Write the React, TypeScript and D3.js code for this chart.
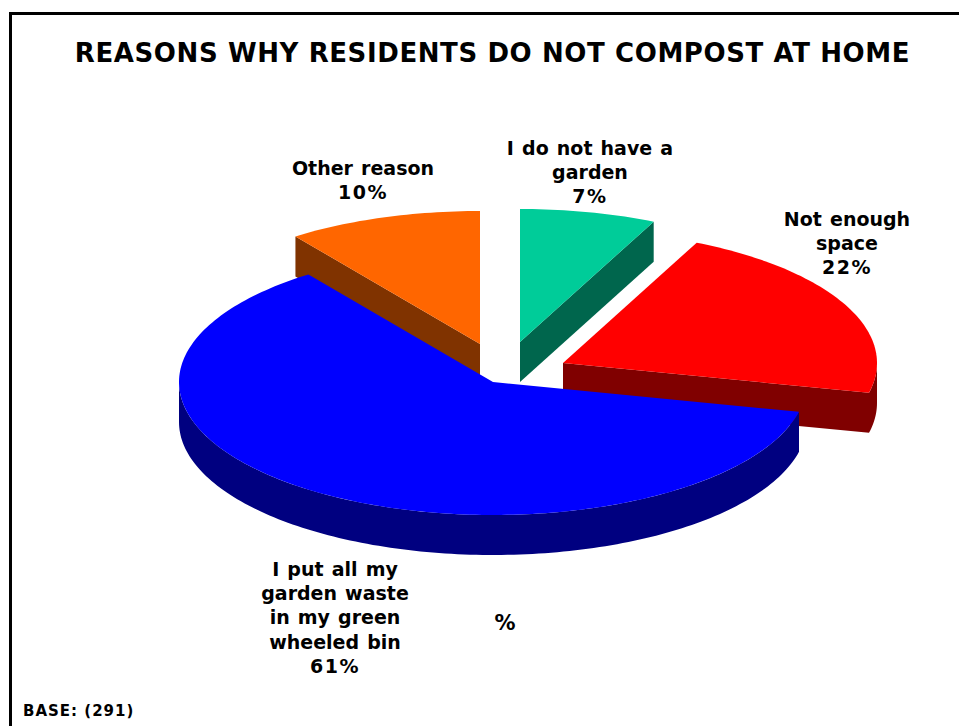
import React from 'react';
import * as d3 from 'd3';

const width = 959;
const height = 726;

// Data (labels show the rounded figures)
const reasons = ['I do not have a garden', 'Not enough space', 'I put all my garden waste in my green wheeled bin', 'Other reason'];
const shares = [7, 21.6, 61.4, 10];
const topColors = ['#00cc99', '#ff0000', '#0000ff', '#ff6600'];
const sideColors = ['#00664d', '#800000', '#000080', '#803300'];
const labelLines = [
   ['I do not have a', 'garden', '7%'],
   ['Not enough', 'space', '22%'],
   ['I put all my', 'garden waste', 'in my green', 'wheeled bin', '61%'],
   ['Other reason', '10%'],
];

const rx = 314;
const ry = 133;
const depth = 40;
const apexes = [
   [520, 342],
   [563, 363],
   [493, 382],
   [480, 344],
];
const labelPos = [
   [590, 155],
   [847, 226],
   [335, 576],
   [363, 175],
];
const drawOrder = [3, 0, 1, 2];

const pie = d3.pie<number>().sort(null).value(d => d);
const arcs = pie(shares);
const line = d3.line();

// Projects a pie angle (clockwise from 12 o'clock) on the tilted ellipse
const project = (i: number, a: number, drop = 0): [number, number] => [
   apexes[i][0] + rx * Math.sin(a),
   apexes[i][1] - ry * Math.cos(a) + drop,
];

const rimPoints = (i: number, a0: number, a1: number, drop = 0) => {
   const steps = Math.max(2, Math.ceil(Math.abs(a1 - a0) / 0.02));
   return d3.range(steps + 1).map(k => project(i, a0 + ((a1 - a0) * k) / steps, drop));
};

const topPath = (i: number) => {
   const { startAngle, endAngle } = arcs[i];
   return line([[apexes[i][0], apexes[i][1]], ...rimPoints(i, startAngle, endAngle)]) + 'Z';
};

// Flat cut face between the centre and one rim angle
const cutPath = (i: number, a: number) => {
   const [ax, ay] = apexes[i];
   const [x, y] = project(i, a);
   return line([[ax, ay], [x, y], [x, y + depth], [ax, ay + depth]]) + 'Z';
};

// Outer wall, only the front half of the ellipse can be seen
const wallPath = (i: number) => {
   const a0 = Math.max(arcs[i].startAngle, Math.PI / 2);
   const a1 = Math.min(arcs[i].endAngle, (3 * Math.PI) / 2);
   if (a1 <= a0) return null;
   return line([...rimPoints(i, a0, a1), ...rimPoints(i, a1, a0, depth)]) + 'Z';
};

const App: React.FC = () => {
   const textFont = '"DejaVu Sans", Verdana, sans-serif';
   return (
      <svg
         width={width}
         height={height}
         viewBox={`0 0 ${width} ${height}`}
         style={{ position: 'absolute', left: 0, top: 0, background: 'white' }}
      >
         <path d={`M10.5 ${height}V13.5H${width}`} fill="none" stroke="black" strokeWidth={3} />
         <text
            x={492.5}
            y={62}
            textAnchor="middle"
            fontFamily={textFont}
            fontWeight="bold"
            fontSize={26}
            letterSpacing={0.6}
         >
            REASONS WHY RESIDENTS DO NOT COMPOST AT HOME
         </text>

         {drawOrder.map(i => {
            const wall = wallPath(i);
            return (
               <g key={reasons[i]}>
                  {(i === 0 || i === 1) && <path d={cutPath(i, arcs[i].endAngle)} fill={sideColors[i]} />}
                  {i === 3 && <path d={cutPath(i, arcs[i].startAngle)} fill={sideColors[i]} />}
                  {wall && <path d={wall} fill={sideColors[i]} />}
                  <path d={topPath(i)} fill={topColors[i]} />
               </g>
            );
         })}

         {labelLines.map((lines, i) => (
            <text
               key={reasons[i]}
               textAnchor="middle"
               fontFamily={textFont}
               fontWeight="bold"
               fontSize={19}
               wordSpacing={1.5}
               fill="black"
            >
               {lines.map((t, j) => (
                  <tspan
                     key={t}
                     x={labelPos[i][0]}
                     y={labelPos[i][1] + j * 24.2}
                     letterSpacing={t.endsWith('%') ? 1.5 : 0}
                  >
                     {t}
                  </tspan>
               ))}
            </text>
         ))}
         <text x={505} y={630} textAnchor="middle" fontFamily={textFont} fontWeight="bold" fontSize={21}>
            %
         </text>
         <text x={23} y={716} fontFamily={textFont} fontWeight="bold" fontSize={15} letterSpacing={1}>
            BASE: (291)
         </text>
      </svg>
   );
};

export default App;
